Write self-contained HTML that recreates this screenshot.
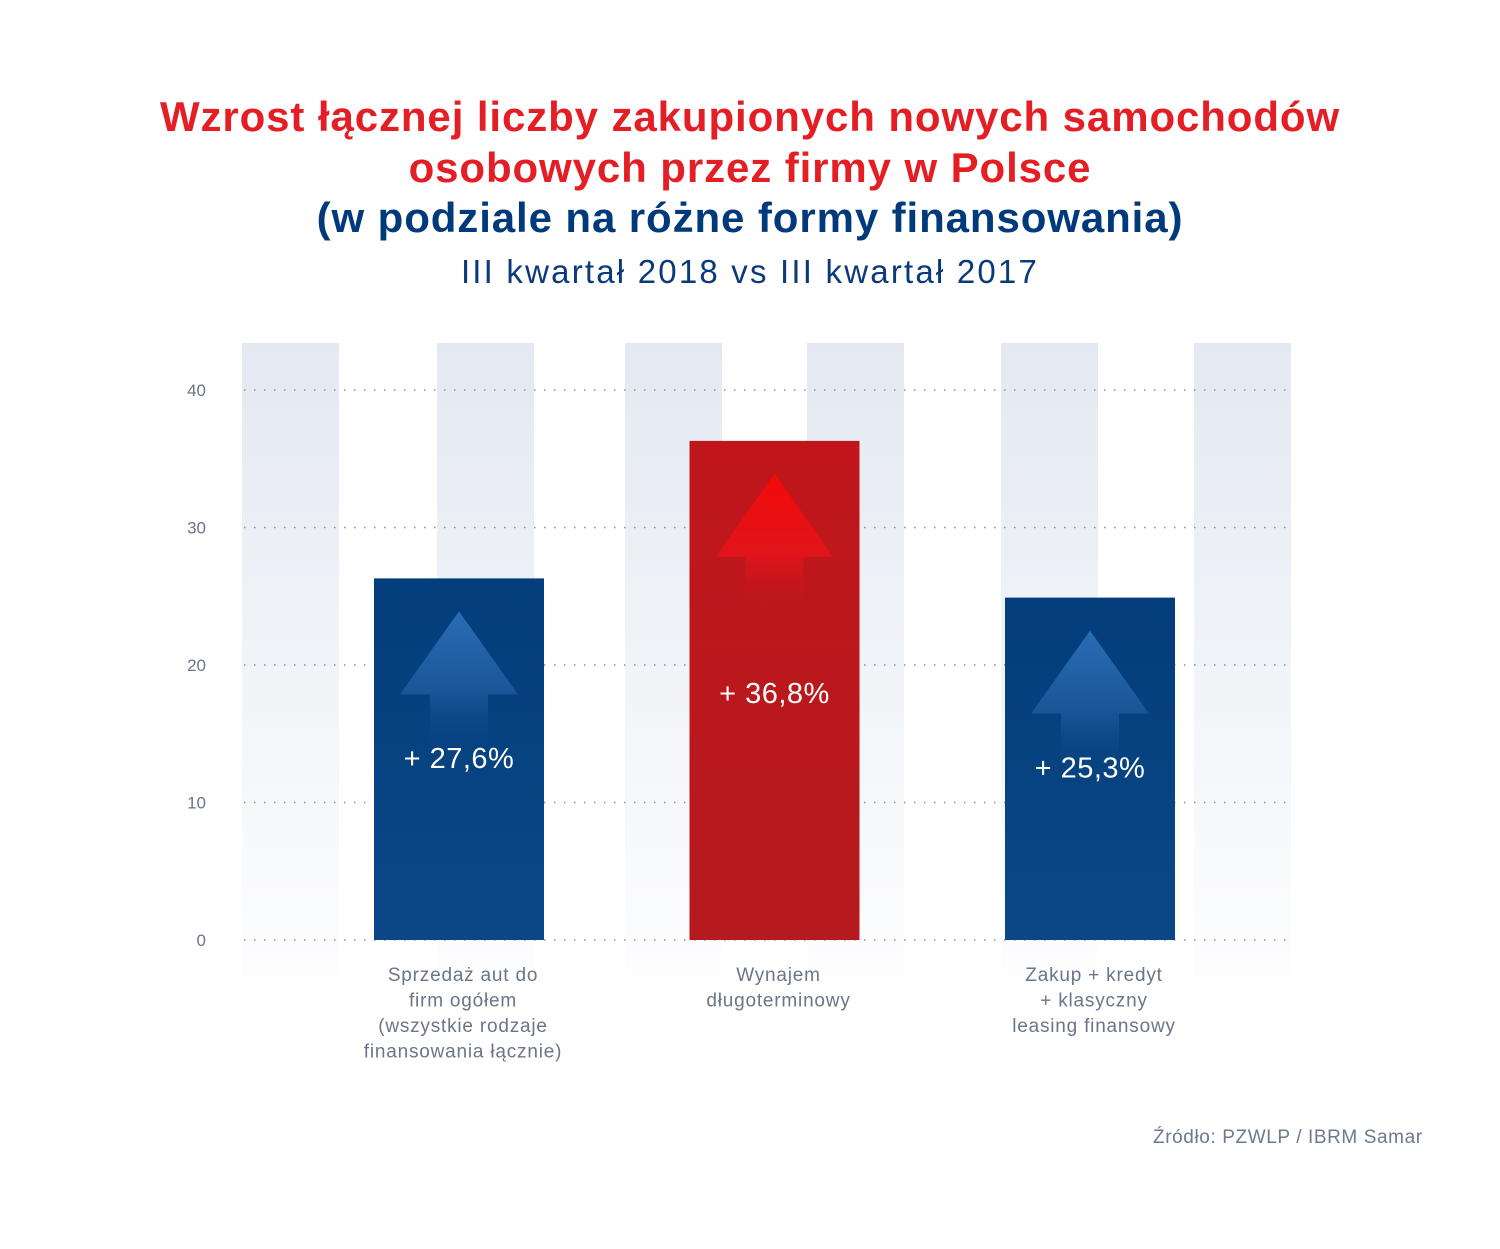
<!DOCTYPE html>
<html><head><meta charset="utf-8"><style>
body{margin:0;background:#fff;font-family:"Liberation Sans","DejaVu Sans",sans-serif}
.t{position:absolute;left:0;width:1500px;text-align:center;white-space:nowrap}
</style></head><body>
<div style="position:relative;width:1500px;height:1249px;overflow:hidden">
<div class="t" style="top:92px;font-size:42px;letter-spacing:0.9px;font-weight:bold;line-height:50.5px;color:#e31e24">Wzrost łącznej liczby zakupionych nowych samochodów<br>osobowych przez firmy w Polsce<br><span style="color:#003a7a">(w podziale na różne formy finansowania)</span></div>
<div class="t" style="top:253px;font-size:33px;letter-spacing:2.2px;color:#0b3a7a">III kwartał 2018 vs III kwartał 2017</div>
<svg id="c" width="1500" height="1249" style="position:absolute;left:0;top:0">
<defs>
<linearGradient id="sg" x1="0" y1="0" x2="0" y2="1"><stop offset="0" stop-color="#e4e9f1"/><stop offset="1" stop-color="#fff"/></linearGradient>
<linearGradient id="bb" x1="0" y1="0" x2="0" y2="1"><stop offset="0" stop-color="#033d7b"/><stop offset="1" stop-color="#0b4787"/></linearGradient>
<linearGradient id="rb" x1="0" y1="0" x2="0" y2="1"><stop offset="0" stop-color="#c0161b"/><stop offset="1" stop-color="#b51a1f"/></linearGradient>
<linearGradient id="ab" x1="0" y1="0" x2="0" y2="1"><stop offset="0" stop-color="#2a6db5"/><stop offset="0.6" stop-color="#1a5597"/><stop offset="1" stop-color="#0b4787" stop-opacity="0"/></linearGradient>
<linearGradient id="ar" x1="0" y1="0" x2="0" y2="1"><stop offset="0" stop-color="#f50a0a"/><stop offset="0.6" stop-color="#e0141a"/><stop offset="1" stop-color="#c0161b" stop-opacity="0"/></linearGradient>
</defs>
<g id="g"></g>
</svg>
<div style="position:absolute;left:1153px;top:1127px;font-size:19px;letter-spacing:0.6px;color:#6b7a8f">Źródło: PZWLP / IBRM Samar</div>
</div>
<script>
const categories=["Sprzedaż aut do|firm ogółem|(wszystkie rodzaje|finansowania łącznie)","Wynajem|długoterminowy","Zakup + kredyt|+ klasyczny|leasing finansowy"];
const values=[26.3,36.3,24.9];
const valueLabels=["+ 27,6%","+ 36,8%","+ 25,3%"];
const yTicks=[0,10,20,30,40];
const NS="http://www.w3.org/2000/svg";
const g=document.getElementById('g');
const y=v=>940-v*13.75;
const cx=i=>459+i*315.5;
function mk(t,a,p){const e=document.createElementNS(NS,t);for(const k in a)e.setAttribute(k,a[k]);(p||g).appendChild(e);return e;}
[242,437,625,807,1001,1194].forEach((x,i)=>{const r=mk('rect',{x:x,y:343,width:97,height:680,fill:'url(#sg)'});

});
yTicks.forEach(v=>{const l=mk('line',{x1:244,x2:1292,y1:y(v),y2:y(v),stroke:'#8a93a3','stroke-width':1.5,'stroke-dasharray':'1.5 8.5'});


const t=mk('text',{x:206,y:y(v)+6,'text-anchor':'end','font-size':17,fill:'#6b7588'});t.textContent=v;

});
values.forEach((v,i)=>{const red=i===1;const x=cx(i);
const b=mk('rect',{x:x-85,y:y(v),width:170,height:940-y(v),fill:red?'url(#rb)':'url(#bb)'});


const top=y(v)+33;
const a=mk('path',{d:`M${x} ${top}L${x+59} ${top+83}L${x+29} ${top+83}L${x+29} ${top+135}L${x-29} ${top+135}L${x-29} ${top+83}L${x-59} ${top+83}Z`,fill:red?'url(#ar)':'url(#ab)'});


const ly=y(v)+(940-y(v))*0.525;
const t=mk('text',{x:x,y:ly,'text-anchor':'middle','font-size':29,'letter-spacing':0.5,fill:'#fff'});t.textContent=valueLabels[i];


const c=mk('text',{'text-anchor':'middle','font-size':19,'letter-spacing':0.8,fill:'#6b7588'});


categories[i].split('|').forEach((s,j)=>{const ts=mk('tspan',{x:x+4,y:981+j*25.5},c);ts.textContent=s;});
});
</script>
</body></html>
